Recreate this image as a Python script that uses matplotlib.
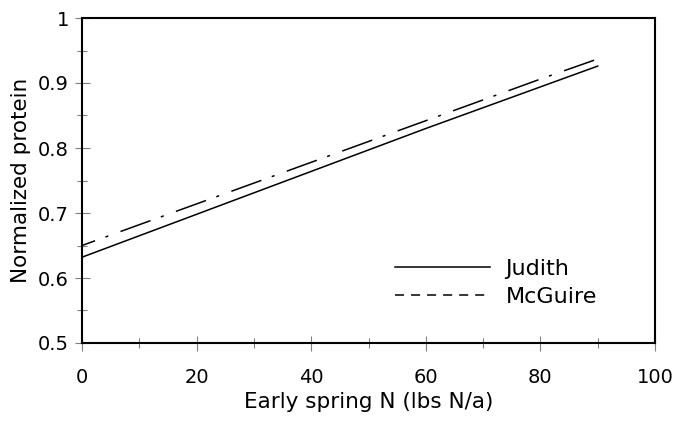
import matplotlib
matplotlib.use('Agg')
import matplotlib.pyplot as plt
from matplotlib.lines import Line2D
from matplotlib.ticker import MultipleLocator

plt.rcParams['font.family'] = ['DejaVu Sans']

n_rate = [0, 10, 20, 30, 40, 50, 60, 70, 80, 90]
judith = [0.632, 0.665, 0.698, 0.731, 0.764, 0.797, 0.830, 0.862, 0.894, 0.926]
mcguire = [0.650, 0.682, 0.714, 0.746, 0.778, 0.810, 0.842, 0.874, 0.906, 0.937]

fig = plt.figure(figsize=(6.89, 4.22), dpi=100)
ax = fig.add_axes([82 / 689, 1 - 343 / 422, 573 / 689, 325 / 422])

ax.plot(n_rate, judith, color='black', lw=1.1, ls='-')
ax.plot(n_rate, mcguire, color='black', lw=1.1, ls=(11.8, (20.9, 7.2, 2, 8.5)))

ax.set_xlim(0, 100)
ax.set_ylim(0.5, 1.0)
ax.xaxis.set_major_locator(MultipleLocator(20))
ax.xaxis.set_minor_locator(MultipleLocator(10))
ax.yaxis.set_minor_locator(MultipleLocator(0.05))
ax.set_yticks([0.5, 0.6, 0.7, 0.8, 0.9, 1.0])
ax.set_yticklabels(['0.5', '0.6', '0.7', '0.8', '0.9', '1'])

ax.tick_params(which='major', direction='inout', length=10.8, width=0.8, color='#808080',
               labelsize=14)
ax.tick_params(which='minor', direction='inout', length=7.9, width=0.8, color='#808080')
ax.tick_params(axis='x', which='major', pad=12.5)
ax.tick_params(axis='y', which='major', pad=4)
for s in ax.spines.values():
    s.set_linewidth(1.5)

ax.set_xlabel('Early spring N (lbs N/a)', fontsize=15.5)
ax.xaxis.set_label_coords(0.5, (343 - 392) / 325)
ax.set_ylabel('Normalized protein', fontsize=15.5)
ax.yaxis.set_label_coords((31 - 82) / 573, 0.5)

handles = [Line2D([], [], color='black', lw=1.1, ls='-'),
           Line2D([], [], color='black', lw=1.1, ls=(0, (5.9, 4.6)))]
ax.legend(handles, ['Judith', 'McGuire'], loc='upper left',
          bbox_to_anchor=((395 - 82) / 573, (343 - 259) / 325),
          frameon=False, fontsize=16, handlelength=4.27, handletextpad=0.7, labelspacing=0.35,
          borderpad=0, borderaxespad=0)

fig.savefig('out.png', dpi=100)
